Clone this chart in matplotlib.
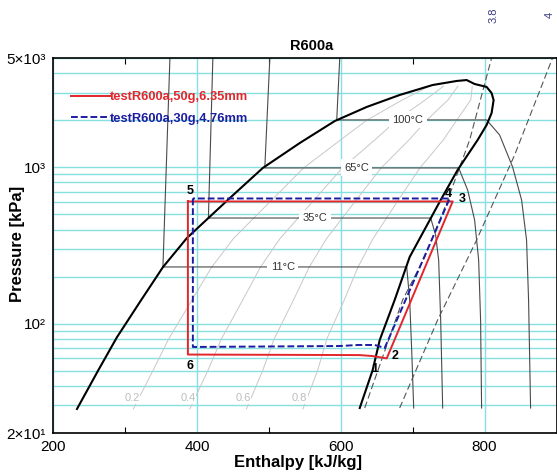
import numpy as np
import matplotlib
matplotlib.use('Agg')
import matplotlib.pyplot as plt
import matplotlib.transforms as mtransforms
from matplotlib.lines import Line2D

plt.rcParams['font.family'] = ['Liberation Sans', 'DejaVu Sans']

# Saturation dome (liquid side up, over the top, vapour side down)
dome_h = [233.3, 262.5, 288.9, 321.8, 352.8, 386.1, 445.8, 491.7, 543.1, 591.7,
          636.1, 681.9, 727.8, 761.1, 775.0, 786.1, 802.8, 809.7, 812.5, 809.7,
          802.8, 790.3, 762.5, 738.9, 709.7, 695.8, 675.0, 654.2, 644.4, 626.4]
dome_p = [28.5, 50, 82, 140, 230, 353, 636, 991, 1431, 1977,
          2432, 2901, 3360, 3565, 3615, 3410, 3266, 2985, 2691, 2223,
          1866, 1496, 962, 618, 350, 267, 142, 78.7, 50.6, 28.9]

# saturated liquid / vapour enthalpy at common pressures (for quality lines)
sat_p = [28.5, 50, 80, 140, 230, 350, 620, 990, 1500, 2000, 2700, 3300]
sat_hl = [233.0, 262.5, 287.5, 321.8, 352.8, 386.0, 445.8, 494.4, 552.4, 594.4, 654.2, 702.8]
sat_hv = [626.0, 644.0, 654.0, 675.0, 691.7, 709.7, 738.9, 763.9, 790.3, 802.8, 812.5, 802.8]
qualities = [0.2, 0.4, 0.6, 0.8]
quality_label_h = [309.7, 387.5, 463.9, 543.0]

# isotherms
iso_names = ['11°C', '35°C', '65°C', '100°C']
iso_h = [
    [362.5, 352.8, 691.7, 695.8, 698.6, 701.4],
    [422.2, 416.0, 725.0, 731.9, 736.1, 738.9, 741.7],
    [501.4, 494.4, 763.9, 776.4, 786.1, 791.7, 794.4, 795.8],
    [598.6, 594.4, 802.8, 820.8, 838.9, 851.4, 858.3, 861.1, 863.9],
]
iso_p = [
    [5000, 230.6, 230.6, 142, 67.9, 28.9],
    [5000, 474, 474, 369, 255, 105.7, 28.9],
    [5000, 991, 991, 716, 460, 255, 105.7, 28.9],
    [5000, 2009, 2009, 1611, 1005, 618, 343, 142, 28.9],
]
iso_label_h = [519.4, 563.9, 622.0, 693.0]

# isentropes
s_names = ['3.8', '4']
s_label_h = [812.0, 891.0]
s_h = [[633.3, 686.1, 716.7, 747.2, 779.2, 809.7],
       [681.9, 734.7, 788.9, 841.7, 894.4]]
s_p = [[28.9, 142, 267, 592, 1496, 5000],
       [28.9, 105.7, 343, 1199, 5000]]

# measured cycles
red_h = [387.5, 387.5, 626.4, 644.4, 663.9, 755.6, 387.5]
red_p = [605, 63.5, 63.0, 62.1, 60.0, 605, 605]
blue_h = [394.4, 394.4, 598.6, 623.6, 647.2, 661.1, 751.4, 394.4]
blue_p = [632, 71.0, 72.0, 73.1, 73.1, 70.0, 632, 632]

pt_names = ['1', '2', '3', '4', '5', '6']
pt_h = [647.2, 675.0, 769.4, 750.0, 390.3, 390.3]
pt_p = [51.3, 62.2, 627, 675, 706, 53.7]

cyan = '#86e0e0'
red = '#e3262c'
blue = '#1c1ca0'

fig = plt.figure(figsize=(5.57, 4.72), dpi=100)
ax = fig.add_axes([0.0952, 0.0826, 0.904, 0.7945])
ax.set_yscale('log')
ax.set_xlim(200, 900)
ax.set_ylim(20, 5000)

# grid
ax.set_xticks([200, 400, 600, 800])
ax.set_xticks([300, 500, 700], minor=True)
ax.set_yticks([20, 100, 1000, 5000])
ax.set_yticklabels(['2×10¹', '10²', '10³', '5×10³'])
ax.set_xticklabels(['200', '400', '600', '800'])
ax.xaxis.grid(True, which='major', color=cyan, lw=1.0)
ax.yaxis.grid(True, which='both', color=cyan, lw=1.0)
ax.set_axisbelow(True)
ax.tick_params(axis='both', which='major', length=0, labelsize=11, pad=5)
ax.tick_params(axis='x', which='minor', direction='in', length=4, top=True, width=0.8)
ax.tick_params(axis='y', which='minor', length=0, labelleft=False)
for sp in ax.spines.values():
    sp.set_linewidth(1.2)

# quality lines
for q, lh in zip(qualities, quality_label_h):
    hq = [hl + q * (hv - hl) for hl, hv in zip(sat_hl, sat_hv)]
    ax.plot(hq, sat_p, color='#c8c8c8', lw=0.7, zorder=1)
    ax.text(lh, 33.5, f'{q:.1f}', color='#bdbdbd', fontsize=8, ha='center', va='center',
            bbox=dict(fc='white', ec='none', pad=0.5), zorder=1.5)

# isotherms
for name, hh, pp, lh in zip(iso_names, iso_h, iso_p, iso_label_h):
    ax.plot(hh, pp, color='#4a4a4a', lw=0.8, zorder=2)
    ax.text(lh, pp[1], name, color='#333333', fontsize=8, ha='center', va='center',
            bbox=dict(fc='white', ec='none', pad=2.5), zorder=2.5)

# isentropes
trans = mtransforms.blended_transform_factory(ax.transData, ax.transAxes)
for name, hh, pp, lh in zip(s_names, s_h, s_p, s_label_h):
    ax.plot(hh, pp, color='#555555', lw=0.8, dashes=(6, 3), zorder=2)
    ax.text(lh, 1.115, name, transform=trans, rotation=90, color='#3a3a80',
            fontsize=8, ha='center', va='center', clip_on=False)

# dome
ax.plot(dome_h, dome_p, color='black', lw=1.5, zorder=3)

# cycles
ax.plot(red_h, red_p, color=red, lw=1.4, zorder=4)
ax.plot(blue_h, blue_p, color=blue, lw=1.4, dashes=(3.5, 1.5), zorder=4.5)

for name, hh, pp in zip(pt_names, pt_h, pt_p):
    ax.text(hh, pp, name, fontsize=9, fontweight='bold', ha='center', va='center', zorder=6)

handles = [Line2D([], [], color=red, lw=1.4),
           Line2D([], [], color=blue, lw=1.4, dashes=(3.5, 1.5))]
leg = ax.legend(handles, ['testR600a,50g,6.35mm', 'testR600a,30g,4.76mm'],
                loc='upper left', bbox_to_anchor=(0.0357, 0.912), frameon=False,
                prop={'weight': 'bold', 'size': 9.3}, handlelength=3.0,
                handletextpad=0.0, borderpad=0, borderaxespad=0, labelspacing=0.75)
for t, c in zip(leg.get_texts(), [red, blue]):
    t.set_color(c)

ax.set_title('R600a', fontweight='bold', fontsize=10.5, x=0.514, pad=6)
ax.set_xlabel('Enthalpy [kJ/kg]', fontweight='bold', fontsize=12)
ax.set_ylabel('Pressure [kPa]', fontweight='bold', fontsize=12)
ax.xaxis.set_label_coords(0.487, -0.058)
ax.yaxis.set_label_coords(-0.056, 0.504)

plt.savefig('out.png', dpi=100)
